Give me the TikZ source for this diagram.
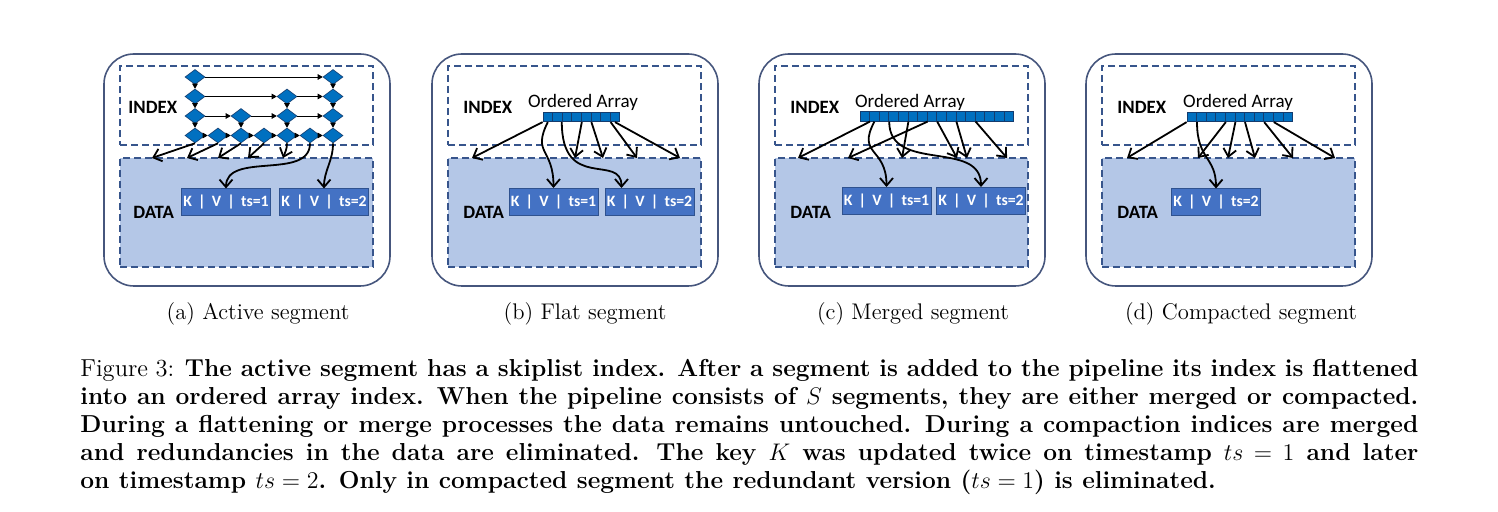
\documentclass[tikz,border=0pt]{standalone}
\usepackage{fontspec}
\newfontfamily\calibri{Carlito}
\usetikzlibrary{math, shapes.geometric, arrows.meta}

\definecolor{cmarco}{RGB}{70,86,125}
\definecolor{cguion}{RGB}{55,85,140}
\definecolor{cdatos}{RGB}{180,199,231}
\definecolor{ccelda}{RGB}{0,112,192}
\definecolor{cbordecelda}{RGB}{20,60,110}
\definecolor{ckv}{RGB}{68,114,196}
\definecolor{cbordekv}{RGB}{47,82,143}

\begin{document}
\begin{tikzpicture}[x = 0.5pt, y = -0.5pt,
    segmento/.style = {draw = cmarco, line width = 0.8pt, rounded corners = 15pt,
        minimum width = 143pt, minimum height = 116pt, inner sep = 0pt},
    caja/.style = {draw = cguion, line width = 0.7pt, dash pattern = on 3.5pt off 2pt,
        minimum width = 126.5pt, inner sep = 0pt},
    etiqueta/.style = {font = \calibri\bfseries\fontsize{9.4}{11}\selectfont,
        inner sep = 0pt, anchor = base west},
    rotulo/.style = {font = \calibri\fontsize{9.5}{11}\selectfont,
        inner sep = 0pt, anchor = base},
    kv/.style = {draw = cbordekv, fill = ckv, text = white, line width = 0.5pt,
        minimum width = 44.5pt, minimum height = 13.5pt, inner sep = 0pt,
        font = \calibri\bfseries\fontsize{7.9}{9}\selectfont},
    nodo/.style = {diamond, draw = cbordecelda, fill = ccelda, line width = 0.3pt,
        minimum width = 10pt, minimum height = 7.5pt, inner sep = 0pt},
    celda/.style = {draw = cbordecelda, fill = ccelda, line width = 0.4pt,
        minimum width = 4.8pt, minimum height = 4.7pt, inner sep = 0pt},
    flecha/.style = {-{Straight Barb[length = 3.8pt, width = 6.5pt]}, line width = 0.9pt},
    enlace/.style = {-{Triangle[length = 2.5pt, width = 2.8pt]}, line width = 0.3pt},
    subtitulo/.style = {font = \fontsize{11.3}{13}\selectfont},
]
    \tikzmath{
        \xval = 1498;
        \yval = 512;
        \yfin = 158;
        \paso = 9.6;
    }

\useasboundingbox (0, 0) rectangle (\xval, \yval);

% Segmentos
\foreach \p/\x/\oi/\od in {a/104/24/29, b/432/31/31, c/759/31/31, d/1086/31/31} {
    \node[segmento] (seg-\p) at (\x+143, 170) {};
    \node[caja, fill = white, minimum height = 39.5pt] (idx-\p) at (\x+142.5, 105.5) {};
    \node[caja, fill = cdatos, minimum height = 54.5pt] (dat-\p) at (\x+142.5, 212.5) {};
    \node[etiqueta] (lidx-\p) at (\x+\oi, 113.5) {INDEX};
    \node[etiqueta] (ldat-\p) at (\x+\od, 219) {DATA};
}

% Datos
\node[kv] (kv-a1) at (226, 202.5) {K \,|\, V \,|\, ts=1};
\node[kv] (kv-a2) at (324, 202.5) {K \,|\, V \,|\, ts=2};
\node[kv] (kv-b1) at (553.5, 202) {K \,|\, V \,|\, ts=1};
\node[kv] (kv-b2) at (649.5, 202) {K \,|\, V \,|\, ts=2};
\node[kv] (kv-c1) at (886.5, 201) {K \,|\, V \,|\, ts=1};
\node[kv] (kv-c2) at (981, 201) {K \,|\, V \,|\, ts=2};
\node[kv] (kv-d1) at (1216, 202.5) {K \,|\, V \,|\, ts=2};

% Skiplist
\foreach \r/\cols in {1/{1,7}, 2/{1,5,7}, 3/{1,3,5,7}, 4/{1,2,3,4,5,6,7}} {
    \foreach \c in \cols {
        \node[nodo] (sk-\r-\c) at ({195+23*(\c-1)}, {77+19.5*(\r-1)}) {};
    }
}
\foreach \r/\a/\b in {1/1/7, 2/1/5, 2/5/7, 3/1/3, 3/3/5, 3/5/7,
                      4/1/2, 4/2/3, 4/3/4, 4/4/5, 4/5/6, 4/6/7}
    \draw[enlace] (sk-\r-\a) -- (sk-\r-\b);
\foreach \r/\s/\c in {1/2/1, 1/2/7, 2/3/1, 2/3/5, 2/3/7, 3/4/1, 3/4/3, 3/4/5, 3/4/7}
    \draw[enlace] (sk-\r-\c) -- (sk-\s-\c);

% Punteros del skiplist
\foreach \c/\e in {1/152, 2/187, 3/218, 4/248} {
    \coordinate (fa-\c) at (\e, \yfin);
    \draw[flecha] (sk-4-\c.south) -- (fa-\c);
}
\coordinate (fa-5) at (283, \yfin);
\draw[flecha] (sk-4-5.south) to[out = -90, in = 70] (fa-5);
\draw[flecha] (sk-4-6.south) to[out = -90, in = 90] (kv-a1.north);
\draw[flecha] (sk-4-7.south) to[out = -90, in = 90] (kv-a2.north);

% Arreglos ordenados
\foreach \p/\x/\y/\n in {b/543/117/8, c/860/116.5/16, d/1187/117/11} {
    \foreach \i in {1,...,\n} {
        \node[celda] (arr-\p-\i) at ({\x+\paso*(\i-0.5)}, \y) {};
    }
}
\node[rotulo] (ord-b) at (583, 108) {Ordered Array};
\node[rotulo] (ord-c) at (910, 107.5) {Ordered Array};
\node[rotulo] (ord-d) at (1238, 108) {Ordered Array};

% Punteros (b)
\foreach \s/\e [count = \i] in {arr-b-1.south west/472, arr-b-4.south east/575,
        arr-b-5.south east/603, arr-b-7.south east/637, arr-b-8.south/680} {
    \coordinate (fb-\i) at (\e, \yfin);
    \draw[flecha] (\s) -- (fb-\i);
}
\coordinate (kb-2) at ([xshift = 8.5pt] kv-b2.north west);
\draw[flecha] (arr-b-1.south) .. controls +(-16, 32) and +(0, -40) .. (kv-b1.north);
\draw[flecha] (arr-b-3.south west) .. controls +(0, 70) and +(0, -35) .. (kb-2);

% Punteros (c)
\foreach \s/\e [count = \i] in {arr-c-1.south east/798, arr-c-5.south east/902,
        arr-c-7.south east/848, arr-c-8.south east/957, arr-c-10.south east/967,
        arr-c-12.south east/1007} {
    \coordinate (fc-\i) at (\e, \yfin);
    \draw[flecha] (\s) -- (fc-\i);
}
\draw[flecha] (arr-c-2.south) .. controls +(-18, 34) and +(0, -40) .. (kv-c1.north);
\draw[flecha] (arr-c-3.south east) .. controls +(0, 52) and +(0, -48) .. (kv-c2.north);

% Punteros (d)
\foreach \s/\e [count = \i] in {arr-d-1.south west/1127, arr-d-4.south east/1198,
        arr-d-5.south east/1228, arr-d-6.south east/1255, arr-d-8.south east/1293,
        arr-d-9.south east/1335} {
    \coordinate (fd-\i) at (\e, \yfin);
    \draw[flecha] (\s) -- (fd-\i);
}
\draw[flecha] (arr-d-1.south east) .. controls +(0, 38) and +(0, -32) .. (kv-d1.north);

% Subtitulos
\node[subtitulo] (sub-a) at (258, 314) {(a) Active segment};
\node[subtitulo] (sub-b) at (585, 314) {(b) Flat segment};
\node[subtitulo] (sub-c) at (913, 314) {(c) Merged segment};
\node[subtitulo] (sub-d) at (1241, 314) {(d) Compacted segment};

% Leyenda
\node[anchor = north west, inner sep = 0pt, text width = 669pt, align = justify,
      font = \fontsize{12.26}{14}\selectfont] (leyenda) at (80, 359)
    {Figure 3: {\bfseries\spaceskip = .383em plus .19em minus .16em
     \xspaceskip = .511em plus .3em minus .16em
     The active segment has a skiplist index. After a segment is added to the pipeline its index is flattened\linebreak
     into an ordered array index. When the pipeline consists of $S$ segments, they are either merged or compacted.\linebreak
     During a flattening or merge processes the data remains untouched. During a compaction indices are merged\linebreak
     and redundancies in the data are eliminated. The key $K$ was updated twice on timestamp $ts=1$ and later\linebreak
     on timestamp $ts=2$. Only in compacted segment the redundant version ($ts=1$) is eliminated.\par}};

\end{tikzpicture}
\end{document}
